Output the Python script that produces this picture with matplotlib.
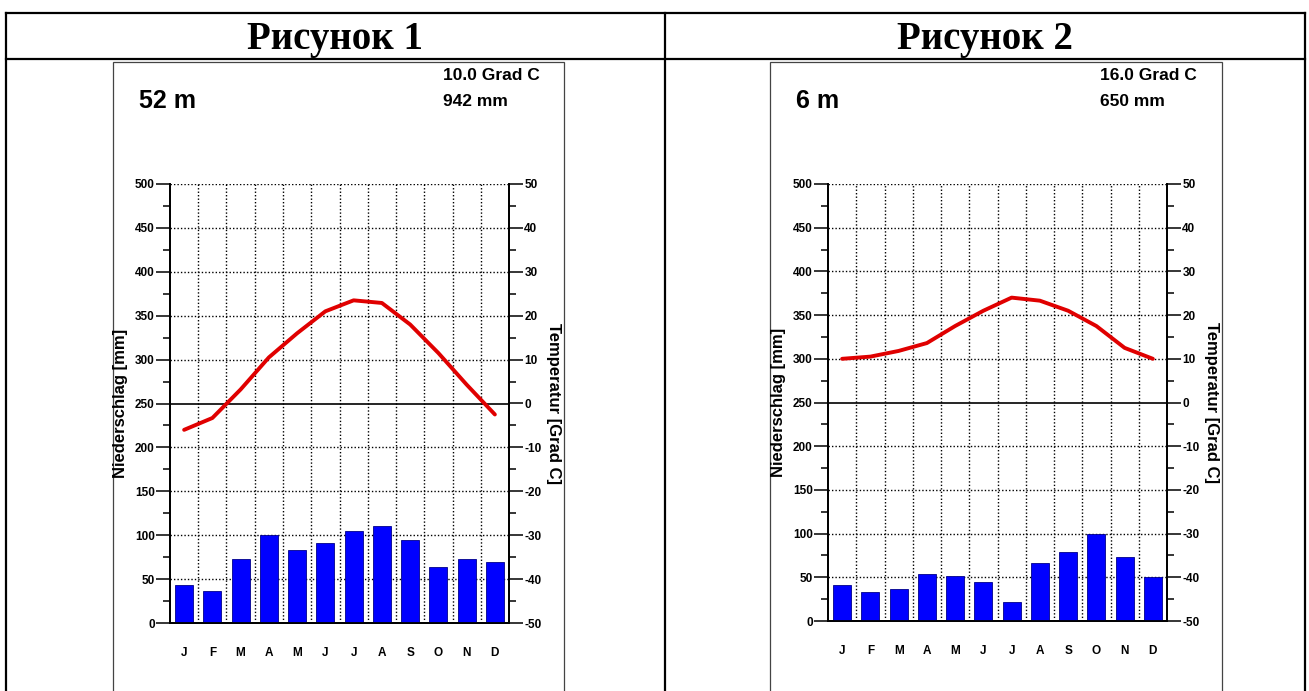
import numpy as np
import matplotlib
matplotlib.use('Agg')
import matplotlib.pyplot as plt
from matplotlib.lines import Line2D
from matplotlib.patches import Rectangle
from matplotlib.ticker import MultipleLocator

plt.rcParams['axes.unicode_minus'] = False

# Data
months = ['J', 'F', 'M', 'A', 'M', 'J', 'J', 'A', 'S', 'O', 'N', 'D']
titles = ['Рисунок 1', 'Рисунок 2']
heights = ['52 m', '6 m']
mean_temps = ['10.0 Grad C', '16.0 Grad C']
total_precip = ['942 mm', '650 mm']

precip_1 = [43, 37, 73, 100, 83, 91, 105, 111, 94, 64, 73, 70]
temp_1 = [-6.0, -3.3, 3.2, 10.5, 16.0, 21.0, 23.5, 22.9, 18.0, 11.5, 4.3, -2.5]

precip_2 = [41, 33, 37, 54, 52, 45, 22, 66, 79, 100, 73, 50]
temp_2 = [10.0, 10.5, 11.8, 13.6, 17.5, 21.0, 24.0, 23.3, 21.0, 17.5, 12.5, 10.0]

W, H = 1309, 691


def fx(x):
    return x / W


def fy(y):
    return 1 - y / H


fig = plt.figure(figsize=(W / 100, H / 100), dpi=100)
fig.patch.set_facecolor('white')

# table frame
tbl = dict(color='black', lw=1.6, transform=fig.transFigure)
fig.add_artist(Line2D([fx(6), fx(1305)], [fy(13), fy(13)], **tbl))
fig.add_artist(Line2D([fx(6), fx(1305)], [fy(59), fy(59)], **tbl))
for xv in [6, 665, 1305]:
    fig.add_artist(Line2D([fx(xv), fx(xv)], [fy(13), fy(691)], **tbl))

tick_font = dict(family='Liberation Sans', weight='bold', size=8.5)
label_font = dict(family='Liberation Sans', weight='bold', size=12)


def climate_panel(img_left, img_right, ax_left, ax_right, ax_top, ax_bottom,
                  title, height, tmean, psum, precip, temp):
    cx = (665 + 6) / 2 if img_left < 665 else (665 + 1305) / 2
    fig.text(fx(cx), fy(49), title, ha='center', va='baseline',
             family='Liberation Serif', weight='bold', size=28)

    # inner picture border
    fig.add_artist(Rectangle((fx(img_left), fy(700)), fx(img_right - img_left),
                             fy(62) - fy(700), fill=False, ec='#444444',
                             lw=0.9, transform=fig.transFigure))

    fig.text(fx(img_left + 26), fy(101), height, ha='left', va='center',
             family='Liberation Sans', weight='bold', size=18)
    fig.text(fx(img_left + 330), fy(76), tmean, ha='left', va='center',
             family='Liberation Sans', weight='bold', size=12.5)
    fig.text(fx(img_left + 330), fy(102), psum, ha='left', va='center',
             family='Liberation Sans', weight='bold', size=12.5)

    ax = fig.add_axes([fx(ax_left), fy(ax_bottom), fx(ax_right - ax_left),
                       fy(ax_top) - fy(ax_bottom)])
    ax2 = ax.twinx()

    x = np.arange(len(months)) + 0.5
    ax.bar(x, precip, width=0.64, color='#0000ff', edgecolor='#00008b',
           lw=0.6, zorder=3)

    # grid
    for v in range(50, 501, 50):
        if v == 250:
            ax.axhline(v, color='black', lw=1.2, zorder=2)
        else:
            ax.axhline(v, color='black', lw=1.0, ls=(0, (1, 1.5)), zorder=2)
    for m in range(1, 12):
        ax.axvline(m, color='black', lw=1.0, ls=(0, (1, 1.5)), zorder=2)

    ax.set_xlim(0, 12)
    ax.set_ylim(0, 500)
    ax2.set_ylim(-50, 50)

    ax2.plot(x, temp, color='#e00000', lw=2.8, solid_capstyle='round',
             zorder=4)

    for a in (ax, ax2):
        a.spines['top'].set_visible(False)
        for s in ('left', 'right', 'bottom'):
            a.spines[s].set_linewidth(1.3)

    ax.yaxis.set_major_locator(MultipleLocator(50))
    ax.yaxis.set_minor_locator(MultipleLocator(25))
    ax2.yaxis.set_major_locator(MultipleLocator(10))
    ax2.yaxis.set_minor_locator(MultipleLocator(5))
    ax.tick_params(axis='y', which='major', length=10, width=1.1, pad=1)
    ax.tick_params(axis='y', which='minor', length=5, width=1.1)
    ax2.tick_params(axis='y', which='major', length=10, width=1.1, pad=1)
    ax2.tick_params(axis='y', which='minor', length=5, width=1.1)
    for lab in ax.get_yticklabels() + ax2.get_yticklabels():
        lab.set(**tick_font)

    ax.set_xticks(x)
    ax.set_xticklabels(months)
    ax.tick_params(axis='x', length=0, pad=17)
    for lab in ax.get_xticklabels():
        lab.set(**tick_font)

    ymid = fy((ax_top + ax_bottom) / 2)
    fig.text(fx(img_left + 8), ymid, 'Niederschlag [mm]', rotation=90,
             ha='center', va='center', **label_font)
    fig.text(fx(img_right - 11), ymid, 'Temperatur [Grad C]', rotation=270,
             ha='center', va='center', **label_font)


climate_panel(113, 564, 170, 509, 184, 623, titles[0], heights[0],
              mean_temps[0], total_precip[0], precip_1, temp_1)
climate_panel(770, 1222, 828, 1167, 184, 621, titles[1], heights[1],
              mean_temps[1], total_precip[1], precip_2, temp_2)

fig.savefig('out.png', dpi=100, facecolor='white')
